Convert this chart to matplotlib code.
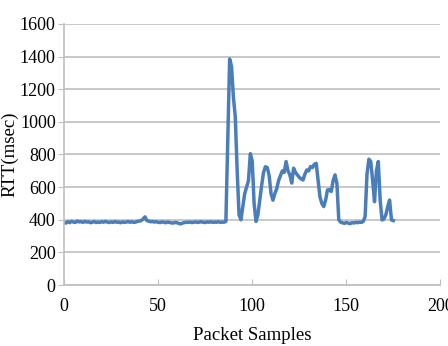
import matplotlib
matplotlib.use("Agg")
import matplotlib.pyplot as plt

samples = list(range(176))
rtt = [
    385, 380, 388, 383, 390, 386, 384, 392, 387, 389,
    384, 390, 386, 388, 382, 385, 389, 383, 386, 384,
    388, 385, 390, 386, 383, 387, 384, 389, 385, 386,
    382, 387, 384, 386, 389, 385, 388, 384, 386, 390,
    392, 395, 405, 418, 395, 392, 388, 390, 386, 388,
    385, 383, 387, 385, 382, 386, 384, 381, 380, 384,
    382, 378, 375, 380, 383, 385, 384, 386, 383, 385,
    387, 384, 386, 388, 385, 383, 387, 385, 388, 384,
    386, 385, 388, 384, 386, 385, 390,
    900, 1385, 1340, 1150, 1030, 700, 430, 400, 480, 560, 600, 640,
    805, 760, 500, 390, 430, 520, 610, 690, 725, 720, 670, 560, 520,
    560, 590, 640, 670, 700, 690, 757, 700, 675, 625, 716, 690, 675,
    660, 650, 644, 680, 705, 700, 726, 720, 740, 746, 644, 540, 500,
    481, 520, 583, 585, 573, 640, 675, 624, 400, 385, 382, 378, 384,
    380, 376, 383, 380, 385, 382, 386, 384, 390, 420, 680, 771, 757,
    640, 511, 700, 757, 520, 399, 405, 430, 480, 521, 399, 395,
]
x_ticks = [0, 50, 100, 150, 200]
y_ticks = [0, 200, 400, 600, 800, 1000, 1200, 1400, 1600]

plt.rcParams['font.family'] = ['Liberation Serif', 'DejaVu Serif']

fig = plt.figure(figsize=(4.48, 3.46), dpi=100)
ax = fig.add_axes([0.143, 0.176, 0.84, 0.755])
ax.plot(samples, rtt, color='#4a7ebb', linewidth=2.5, solid_joinstyle='round')
ax.set_xlim(0, 200)
ax.set_ylim(0, 1600)
ax.set_xticks(x_ticks)
ax.set_yticks(y_ticks)
ax.yaxis.grid(True, color='#bfbfbf', linewidth=1.2)
ax.set_axisbelow(True)
for s in ['top', 'right']:
    ax.spines[s].set_visible(False)
for s in ['left', 'bottom']:
    ax.spines[s].set_color('#bfbfbf')
    ax.spines[s].set_linewidth(1.2)
ax.tick_params(axis='y', direction='out', length=4, color='#bfbfbf', labelsize=13, pad=2)
ax.tick_params(axis='x', direction='in', length=4, color='#bfbfbf', labelsize=13, pad=9)
ax.set_xlabel('Packet Samples', fontsize=13.5, labelpad=9)
ax.set_ylabel('RTT(msec)', fontsize=13.5, labelpad=1)
fig.savefig('out.png', dpi=100)
